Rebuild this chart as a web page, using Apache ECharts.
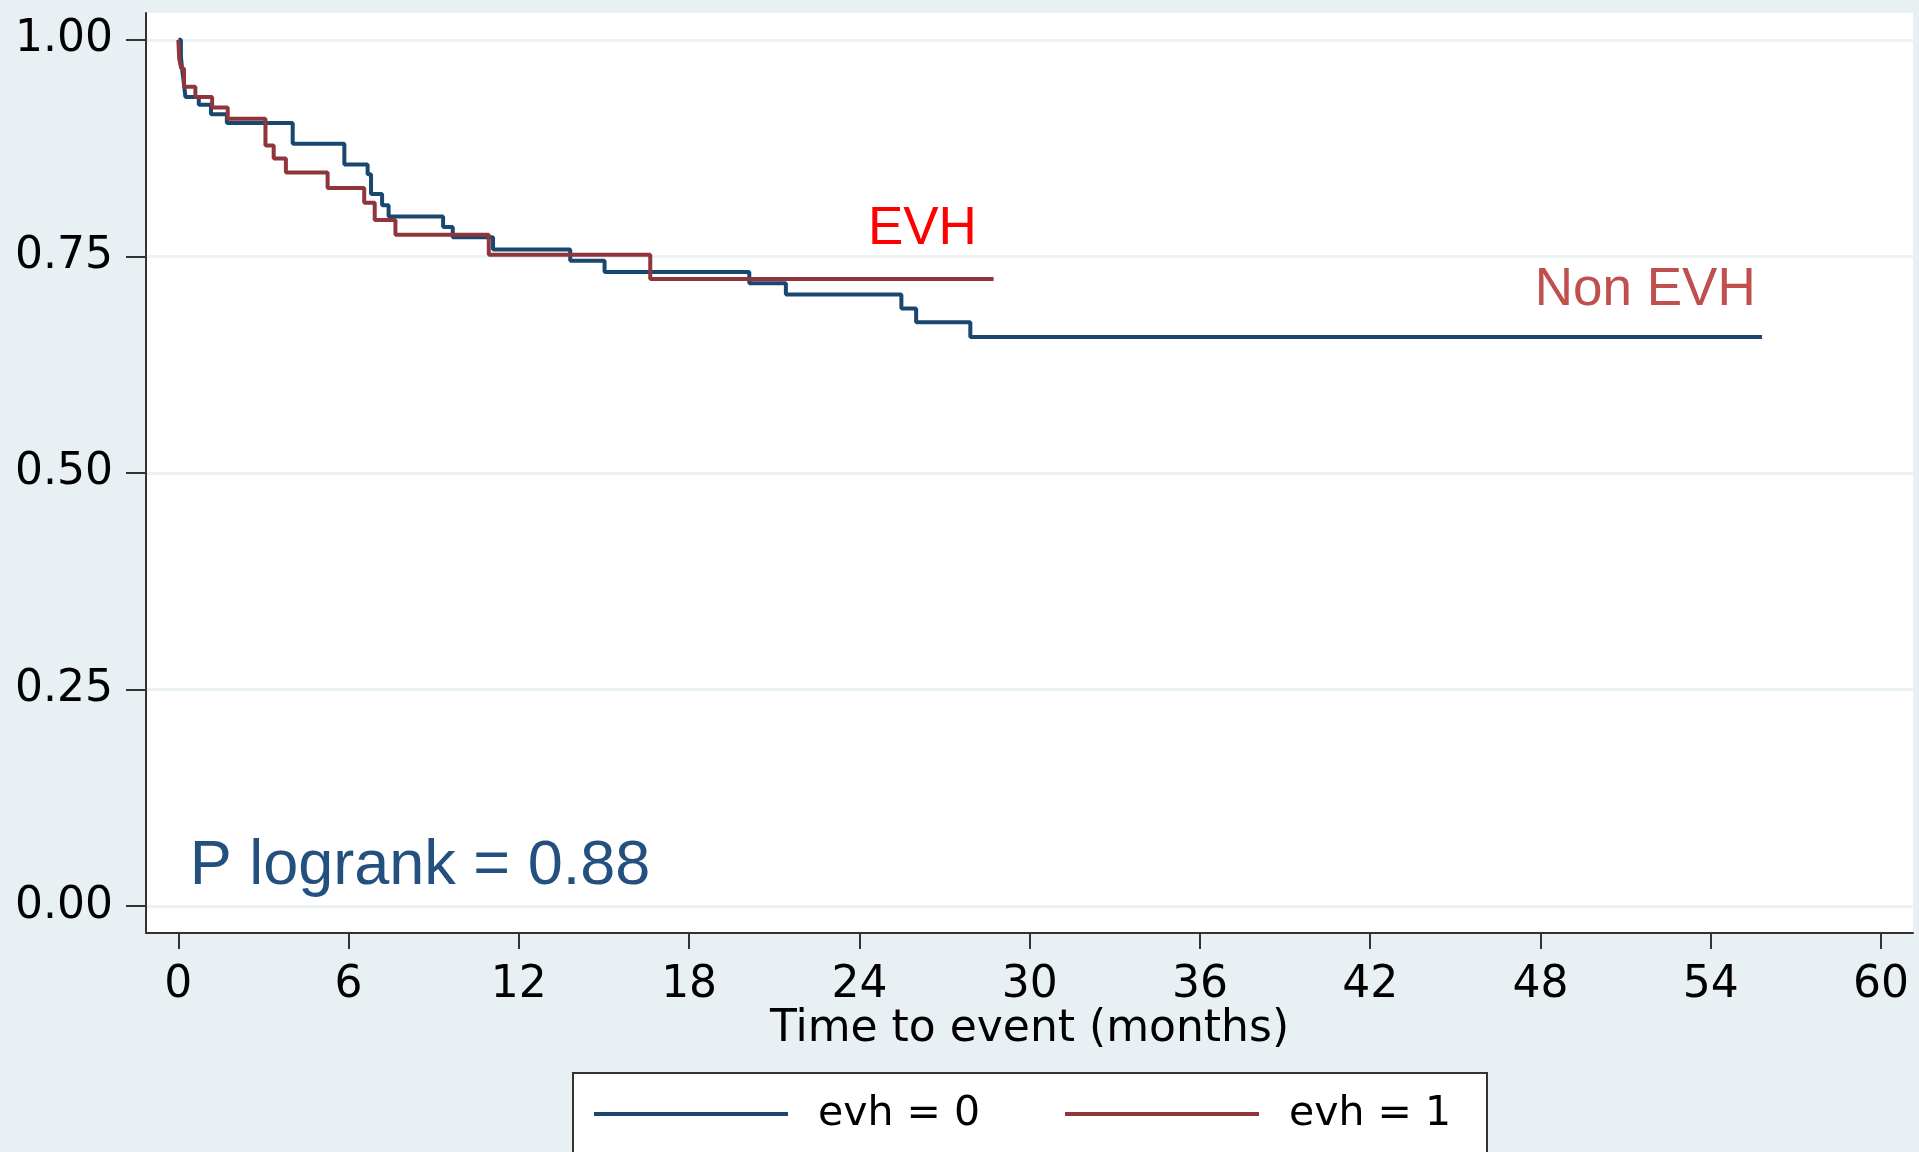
<!DOCTYPE html>
<html>
<head>
<meta charset="utf-8">
<script src="https://cdn.jsdelivr.net/npm/echarts@6/dist/echarts.min.js"></script>
<style>
  html, body { margin: 0; padding: 0; background: #e8f0f3; }
  #chart { width: 1919px; height: 1152px; }
</style>
</head>
<body>
<div id="chart"></div>
<script>
// Kaplan-Meier steps (time in months, survival)
const evh0Time = [0, 0.09, 0.13, 0.18, 0.25, 0.72, 1.15, 1.71, 4.03, 5.85, 6.67, 6.79, 7.18, 7.41, 9.33, 9.67, 11.09, 13.81, 15.02, 20.12, 21.41, 25.48, 26.0, 27.91, 55.81];
const evh0Surv = [1.0, 0.981, 0.967, 0.954, 0.934, 0.925, 0.914, 0.904, 0.880, 0.856, 0.845, 0.822, 0.809, 0.796, 0.784, 0.772, 0.758, 0.745, 0.732, 0.719, 0.706, 0.690, 0.674, 0.657, 0.657];
const evh1Time = [0, 0.03, 0.1, 0.2, 0.6, 1.19, 1.74, 3.07, 3.36, 3.79, 5.26, 6.55, 6.92, 7.65, 10.94, 16.63, 28.73];
const evh1Surv = [1.0, 0.978, 0.967, 0.946, 0.934, 0.922, 0.909, 0.878, 0.863, 0.847, 0.829, 0.812, 0.792, 0.775, 0.752, 0.724, 0.724];

const seriesNames = ['evh = 0', 'evh = 1'];
const xTicks = [0, 6, 12, 18, 24, 30, 36, 42, 48, 54, 60];
const yTicks = [0, 0.25, 0.5, 0.75, 1];
const xTitle = 'Time to event (months)';

// text notes placed in data coordinates
const notes = [
  { text: 'EVH', x: 24.3, y: 0.781 },
  { text: 'Non EVH', x: 47.8, y: 0.711 },
  { text: 'P logrank = 0.88', x: 0.4, y: 0.046 }
];
const noteStyles = [
  { color: '#ff0000', size: 53 },
  { color: '#c0504d', size: 53 },
  { color: '#24507f', size: 63 }
];

const zip = (t, s) => t.map((v, i) => [v, s[i]]);

const chart = echarts.init(document.getElementById('chart'));
const option = {
  animation: false,
  backgroundColor: '#e8f0f3',
  grid: {
    left: 146, right: 6, top: 13, bottom: 219,
    show: true, backgroundColor: '#ffffff', borderWidth: 0
  },
  legend: {
    left: 573, top: 1073,
    padding: [19, 30, 19, 21],
    backgroundColor: '#ffffff',
    borderColor: '#333333', borderWidth: 2, borderRadius: 0,
    icon: 'rect', itemWidth: 194, itemHeight: 4, itemGap: 79,
    textStyle: {
      fontFamily: 'DejaVu Sans', fontSize: 41, color: '#000',
      width: 168, lineHeight: 44, padding: [0, 0, 0, 25]
    },
    data: seriesNames
  },
  xAxis: {
    type: 'value', min: -1.14, max: 61.13,
    name: xTitle, nameLocation: 'middle', nameGap: 75, nameMoveOverlap: false,
    nameTextStyle: { fontFamily: 'DejaVu Sans', fontSize: 44, color: '#000' },
    axisLine: { show: true, onZero: false, lineStyle: { color: '#333', width: 2 } },
    axisTick: { show: true, customValues: xTicks, length: 16, lineStyle: { color: '#333', width: 2 } },
    axisLabel: { customValues: xTicks, margin: 31, fontFamily: 'DejaVu Sans', fontSize: 44, color: '#000' },
    splitLine: { show: false }
  },
  yAxis: {
    type: 'value', min: -0.031, max: 1.031,
    axisLine: { show: true, onZero: false, lineStyle: { color: '#333', width: 2 } },
    axisTick: { show: true, customValues: yTicks, length: 20, lineStyle: { color: '#333', width: 2 } },
    axisLabel: {
      customValues: yTicks, margin: 33, fontFamily: 'DejaVu Sans', fontSize: 44, color: '#000',
      formatter: v => v.toFixed(2)
    },
    splitLine: { show: true, lineStyle: { color: '#eaf2f3', width: 3 } }
  },
  series: [
    {
      name: seriesNames[0], type: 'line', step: 'end', symbol: 'none',
      color: '#1a476f', lineStyle: { width: 4, color: '#1a476f' },
      data: zip(evh0Time, evh0Surv)
    },
    {
      name: seriesNames[1], type: 'line', step: 'end', symbol: 'none',
      color: '#90353b', lineStyle: { width: 4, color: '#90353b' },
      data: zip(evh1Time, evh1Surv)
    }
  ]
};
chart.setOption(option);

chart.setOption({
  graphic: notes.map((n, i) => {
    const p = chart.convertToPixel({ gridIndex: 0 }, [n.x, n.y]);
    return {
      type: 'text', x: p[0], y: p[1], z: 10,
      style: {
        text: n.text, fill: noteStyles[i].color,
        font: noteStyles[i].size + 'px "Liberation Sans", Arial, sans-serif',
        verticalAlign: 'middle', align: 'left'
      }
    };
  })
});
</script>
</body>
</html>
